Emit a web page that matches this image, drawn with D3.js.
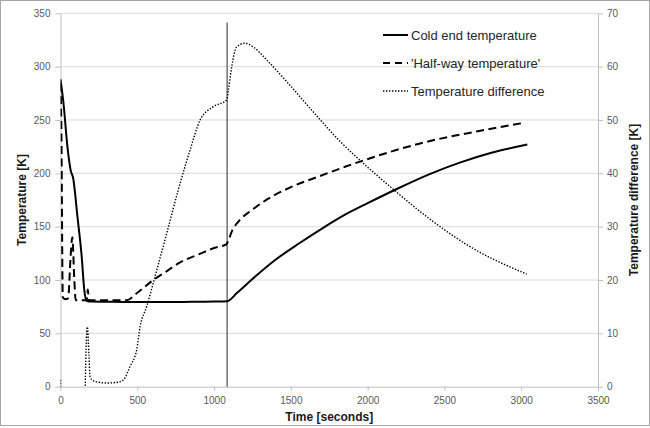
<!DOCTYPE html>
<html>
<head>
<meta charset="utf-8">
<script src="https://cdn.jsdelivr.net/npm/d3@7"></script>
<style>
  html, body { margin: 0; padding: 0; background: #fff; }
  svg { display: block; font-family: "Liberation Sans", Arial, sans-serif; }
</style>
</head>
<body>
<svg id="chart" width="650" height="428"></svg>
<script>
// Time axis ticks and the two temperature axes
const timeTicks = [0, 500, 1000, 1500, 2000, 2500, 3000, 3500];
const tempTicks = [0, 50, 100, 150, 200, 250, 300, 350];
const diffTicks = [0, 10, 20, 30, 40, 50, 60, 70];

// Moment the heater is switched off (vertical marker)
const switchTime = 1085;

// Cold end temperature [K] vs time [s]
const coldTime = [0, 20, 45, 66, 83, 110, 138, 155, 170, 200, 400, 600, 800, 1000, 1085,
  1150, 1250, 1400, 1550, 1700, 1850, 2000, 2200, 2400, 2600, 2800, 3040];
const coldTemp = [288, 265, 225, 203, 195, 160, 122, 90.6, 80.6, 79.8, 79.5, 79.3, 79.5, 79.8, 80.2,
  88, 101, 119, 134, 148, 161, 172, 186, 199, 210, 219, 227];

// 'Half-way' temperature [K] vs time [s]
const halfTime = [0, 5, 15, 30, 50, 65, 77, 90, 99, 150, 170, 178, 185, 300, 431, 500, 604, 700,
  767, 900, 1000, 1082, 1090, 1120, 1160, 1250, 1350, 1500, 1690, 1950, 2341, 2775, 3025];
const halfTemp = [284, 250, 84, 82, 83, 120, 140, 100, 81, 81, 81, 91, 81, 81, 81, 88, 100, 109,
  115.6, 124, 130, 133.7, 136, 147, 155, 166, 176, 187, 197.5, 211, 228, 241, 247.5];

// Temperature difference [K] vs time [s] (right axis)
const diffTime = [0, 8, 150, 158, 175, 185, 192, 210, 236, 300, 366, 409, 452, 496, 518, 561, 615,
  692, 767, 843, 909, 995, 1082, 1093, 1115, 1147, 1201, 1255, 1343, 1473, 1646, 1820, 1929,
  2167, 2406, 2667, 3036];
const diffTemp = [1.3, -40, -40, -5, 11.2, 6, 1.9, 1.2, 0.9, 0.7, 0.8, 1.25, 3.75, 6.9, 11.2, 15,
  20.6, 28.8, 36.9, 44.3, 50, 52.5, 53.75, 55.6, 60, 63.7, 64.4, 63.7, 61.25, 57.2, 51.5, 46.0,
  43.0, 37.0, 31.4, 26.25, 21.1];

const legendLabels = ["Cold end temperature", "'Half-way temperature'", "Temperature difference"];

const svg = d3.select("#chart");
const W = 650, H = 428;
const plot = { left: 60.5, right: 598, top: 13.3, bottom: 386.7 };

const x = d3.scaleLinear().domain([0, 3500]).range([plot.left, plot.right]);
const yL = d3.scaleLinear().domain([0, 350]).range([plot.bottom, plot.top]);
const yR = d3.scaleLinear().domain([0, 70]).range([plot.bottom, plot.top]);

// Outer chart frame
svg.append("rect")
  .attr("x", 0.5).attr("y", 0.5).attr("width", W - 1).attr("height", H - 3)
  .attr("fill", "#fff").attr("stroke", "#a6a6a6");

svg.append("clipPath").attr("id", "plotClip")
  .append("rect")
  .attr("x", plot.left).attr("y", plot.top)
  .attr("width", plot.right - plot.left).attr("height", plot.bottom - plot.top);

// Horizontal gridlines
svg.append("g")
  .selectAll("line").data(tempTicks.slice(1)).join("line")
  .attr("x1", plot.left).attr("x2", plot.right)
  .attr("y1", d => yL(d)).attr("y2", d => yL(d))
  .attr("stroke", "#d9d9d9").attr("stroke-width", 1);

// Axes
const tickColor = "#595959";
const fmt = d3.format("d");
function styleAxis(g) {
  g.select(".domain").attr("stroke", "#bfbfbf");
  g.selectAll(".tick line").attr("stroke", "#bfbfbf");
  g.selectAll(".tick text").attr("fill", tickColor).attr("font-size", 10);
}

svg.append("g")
  .attr("transform", `translate(0,${plot.bottom})`)
  .call(d3.axisBottom(x).tickValues(timeTicks).tickFormat(fmt).tickSize(4).tickSizeOuter(0).tickPadding(6))
  .call(styleAxis);

svg.append("g")
  .attr("transform", `translate(${plot.left},0)`)
  .call(d3.axisLeft(yL).tickValues(tempTicks).tickFormat(fmt).tickSize(5).tickSizeOuter(0).tickPadding(5))
  .call(styleAxis);

svg.append("g")
  .attr("transform", `translate(${plot.right},0)`)
  .call(d3.axisRight(yR).tickValues(diffTicks).tickFormat(fmt).tickSize(5).tickSizeOuter(0).tickPadding(4))
  .call(styleAxis);

// Axis titles
svg.append("text")
  .attr("x", (plot.left + plot.right) / 2).attr("y", 421)
  .attr("text-anchor", "middle").attr("font-size", 12).attr("font-weight", "bold")
  .attr("fill", "#1a1a1a").text("Time [seconds]");

svg.append("text")
  .attr("transform", `translate(26,${(plot.top + plot.bottom) / 2}) rotate(-90)`)
  .attr("text-anchor", "middle").attr("font-size", 12).attr("font-weight", "bold")
  .attr("fill", "#1a1a1a").text("Temperature [K]");

svg.append("text")
  .attr("transform", `translate(638,${(plot.top + plot.bottom) / 2}) rotate(-90)`)
  .attr("text-anchor", "middle").attr("font-size", 12).attr("font-weight", "bold")
  .attr("fill", "#1a1a1a").text("Temperature difference [K]");

// Switch-off marker
svg.append("line")
  .attr("x1", x(switchTime)).attr("x2", x(switchTime))
  .attr("y1", 22.5).attr("y2", plot.bottom)
  .attr("stroke", "#5a5a5a").attr("stroke-width", 1.3);

// Data lines
const lines = svg.append("g").attr("clip-path", "url(#plotClip)");

const styles = [
  { w: 2, dash: null },
  { w: 2, dash: "8,4.5" },
  { w: 1.4, dash: "1.4,1.6" }
];

const series = [
  { t: coldTime, v: coldTemp, y: yL },
  { t: halfTime, v: halfTemp, y: yL },
  { t: diffTime, v: diffTemp, y: yR }
];

series.forEach((s, i) => {
  const pts = s.t.map((t, k) => [t, s.v[k]]);
  lines.append("path")
    .datum(pts)
    .attr("fill", "none")
    .attr("stroke", "#000")
    .attr("stroke-width", styles[i].w)
    .attr("stroke-dasharray", styles[i].dash)
    .attr("stroke-linejoin", "round")
    .attr("d", d3.line().curve(d3.curveMonotoneX).x(d => x(d[0])).y(d => s.y(d[1])));
});

// Legend
const legend = svg.append("g");
legendLabels.forEach((label, i) => {
  const ly = 35 + i * 28;
  legend.append("line")
    .attr("x1", 383).attr("x2", 408).attr("y1", ly).attr("y2", ly)
    .attr("stroke", "#000")
    .attr("stroke-width", styles[i].w)
    .attr("stroke-dasharray", i === 1 ? "7,5" : styles[i].dash);
  legend.append("text")
    .attr("x", 411).attr("y", ly + 4.5)
    .attr("font-size", 13).attr("fill", "#262626")
    .text(label);
});
</script>
</body>
</html>
